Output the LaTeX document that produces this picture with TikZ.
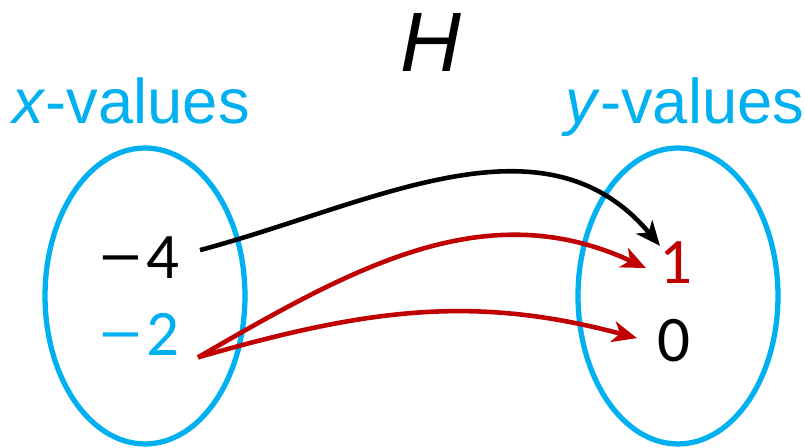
\documentclass[tikz,border=0pt]{standalone}
\usepackage{fontspec}
\setmainfont{Liberation Sans}
\newfontfamily\numfont{Carlito}
\usetikzlibrary{arrows.meta,shapes.geometric}

\definecolor{setblue}{RGB}{0,176,240}
\definecolor{mapred}{RGB}{192,0,0}

\tikzset{
  setbox/.style={ellipse, draw=setblue, line width=3pt, minimum width=4cm, minimum height=5.92cm, inner sep=0pt},
  headtext/.style={text=setblue, inner sep=0pt, font=\fontsize{36}{40}\selectfont},
  numtext/.style={inner sep=0pt, font=\numfont\fontsize{37}{40}\selectfont},
  maparrow/.style={line width=2.6pt, -{Stealth[length=14pt, width=12pt, inset=4pt]}}
}
\newcommand{\mns}{\scalebox{1.45}[1]{−}\kern1.5pt}

\begin{document}
\begin{tikzpicture}[x=0.02cm, y=0.02cm]
    \useasboundingbox (0,0) rectangle (805,448);

    % Sets
    \node[setbox] (xset) at (145,152) {};
    \node[setbox] (yset) at (678,152) {};

    % Labels
    \node[inner sep=0pt, anchor=base, font=\fontsize{48}{52}\selectfont\itshape] (title) at (431,376) {H};
    \node[headtext, anchor=base west] (xlabel) at (12,324) {\textit{x}-values};
    \node[headtext, anchor=base west] (ylabel) at (565,324) {\textit{y}-values};

    % Elements
    \node[numtext, anchor=base east] (m4) at (180,169) {\mns4};
    \node[numtext, anchor=base east, text=setblue] (m2) at (180,92) {\mns2};
    \node[numtext, anchor=base west, text=mapred] (one) at (659,164) {1};
    \node[numtext, anchor=base west] (zero) at (657,86) {0};

    % Mapping
    \draw[maparrow] ([shift={(20,8)}]m4.east) to[out=15, in=130] ([shift={(1,-4)}]one.north west);
    \draw[maparrow, mapred] ([shift={(18,-1)}]m2.south east) to[out=30, in=155] ([shift={(-13,-5)}]one.west);
    \draw[maparrow, mapred] ([shift={(18,-1)}]m2.south east) to[out=16, in=165] ([shift={(-20,3)}]zero.west);
\end{tikzpicture}
\end{document}
